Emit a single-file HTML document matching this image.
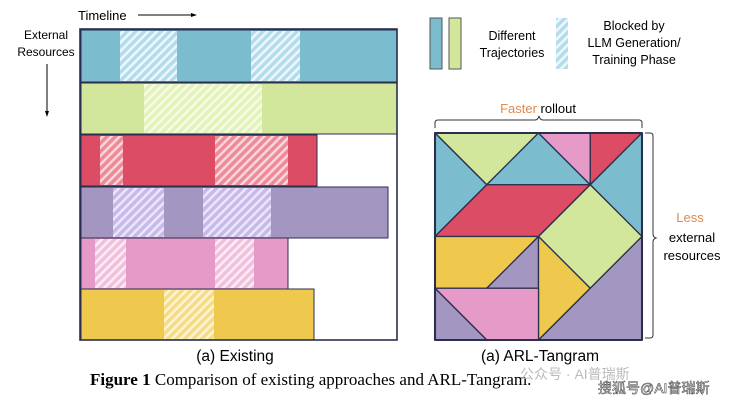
<!DOCTYPE html>
<html><head><style>body{margin:0;background:#fff}svg{display:block}</style></head><body>
<svg width="736" height="405" viewBox="0 0 736 405" xmlns="http://www.w3.org/2000/svg" font-family="Liberation Sans, sans-serif">
<defs>
<pattern id="hb" width="6" height="6" patternUnits="userSpaceOnUse" patternTransform="rotate(45)"><rect width="6" height="6" fill="#b4dceb"/><rect width="2.5" height="6" fill="#eef8fc"/></pattern>
<pattern id="hg" width="6" height="6" patternUnits="userSpaceOnUse" patternTransform="rotate(45)"><rect width="6" height="6" fill="#e2f2b8"/><rect width="2.5" height="6" fill="#f6fbe6"/></pattern>
<pattern id="hr" width="6" height="6" patternUnits="userSpaceOnUse" patternTransform="rotate(45)"><rect width="6" height="6" fill="#ec8a98"/><rect width="2.5" height="6" fill="#f9d6dc"/></pattern>
<pattern id="hp" width="6" height="6" patternUnits="userSpaceOnUse" patternTransform="rotate(45)"><rect width="6" height="6" fill="#c7b9ea"/><rect width="2.5" height="6" fill="#ece6f8"/></pattern>
<pattern id="hk" width="6" height="6" patternUnits="userSpaceOnUse" patternTransform="rotate(45)"><rect width="6" height="6" fill="#f2c0df"/><rect width="2.5" height="6" fill="#fcecf5"/></pattern>
<pattern id="hy" width="6" height="6" patternUnits="userSpaceOnUse" patternTransform="rotate(45)"><rect width="6" height="6" fill="#f5dc86"/><rect width="2.5" height="6" fill="#fdf4d6"/></pattern>
</defs>
<text x="78" y="20" font-size="13">Timeline</text>
<line x1="138" y1="15" x2="193" y2="15" stroke="#000" stroke-width="1"/><polygon points="197,15 191,13 191,17" fill="#000"/>
<text x="46" y="39" font-size="12" text-anchor="middle">External</text>
<text x="46" y="56" font-size="12" text-anchor="middle">Resources</text>
<line x1="47" y1="64" x2="47" y2="112" stroke="#000"/><polygon points="47,117 45,111 49,111" fill="#000"/>
<g stroke="#2b2f4e" stroke-width="1">
<rect x="81" y="30" width="316" height="52" fill="#7bbccf"/>
<rect x="81" y="83" width="316" height="51" fill="#d2e79b"/>
<rect x="81" y="135" width="236" height="51" fill="#dc4c64"/>
<rect x="81" y="187" width="307" height="51" fill="#a396c0"/>
<rect x="81" y="238" width="207" height="51" fill="#e59ac8"/>
<rect x="81" y="289" width="233" height="51" fill="#efc94e"/>
</g>
<rect x="120" y="31" width="57" height="50" fill="url(#hb)"/>
<rect x="251" y="31" width="49" height="50" fill="url(#hb)"/>
<rect x="144" y="84" width="118" height="49" fill="url(#hg)"/>
<rect x="100" y="136" width="23" height="49" fill="url(#hr)"/>
<rect x="215" y="136" width="73" height="49" fill="url(#hr)"/>
<rect x="113" y="188" width="51" height="49" fill="url(#hp)"/>
<rect x="203" y="188" width="68" height="49" fill="url(#hp)"/>
<rect x="95" y="239" width="31" height="49" fill="url(#hk)"/>
<rect x="215" y="239" width="39" height="49" fill="url(#hk)"/>
<rect x="164" y="290" width="50" height="49" fill="url(#hy)"/>
<rect x="80" y="29" width="317" height="311" fill="none" stroke="#2b2f4e" stroke-width="1.6"/>
<text x="235" y="361" font-size="15.5" text-anchor="middle">(a) Existing</text>
<rect x="430" y="18" width="12" height="51" fill="#7bbccf" stroke="#555"/>
<rect x="449" y="18" width="12" height="51" fill="#d2e79b" stroke="#555"/>
<text x="512" y="40" font-size="12.5" text-anchor="middle">Different</text>
<text x="512" y="57" font-size="12.5" text-anchor="middle">Trajectories</text>
<rect x="556" y="18" width="12" height="51" fill="url(#hb)"/>
<text x="634" y="30" font-size="12.5" text-anchor="middle">Blocked by</text>
<text x="634" y="47" font-size="12.5" text-anchor="middle">LLM Generation/</text>
<text x="634" y="64" font-size="12.5" text-anchor="middle">Training Phase</text>
<text x="538" y="113" font-size="13" text-anchor="middle"><tspan fill="#e08a4e">Faster</tspan> rollout</text>
<path d="M435,128 v-5 q0,-3 3,-3 h97 q3,0 4,-4 q1,4 4,4 h96 q3,0 3,3 v5" fill="none" stroke="#333"/>
<path d="M645,133 h5 q3,0 3,3 v98 q0,3 3,4 q-3,1 -3,4 v93 q0,3 -3,3 h-5" fill="none" stroke="#333"/>
<text x="690" y="222" font-size="13" fill="#e08a4e" text-anchor="middle">Less</text>
<text x="692" y="242" font-size="13" text-anchor="middle">external</text>
<text x="692" y="260" font-size="13" text-anchor="middle">resources</text>
<g transform="translate(435,133) scale(51.75)" stroke="#2b2f4e" stroke-width="0.025" stroke-linejoin="round">
<polygon points="0,0 2,0 1,1" fill="#d2e79b"/>
<polygon points="0,0 1,1 0,2" fill="#7bbccf"/>
<polygon points="1,1 2,0 3,1" fill="#7bbccf"/>
<polygon points="2,0 3,0 3,1" fill="#e59ac8"/>
<polygon points="3,0 4,0 3,1" fill="#dc4c64"/>
<polygon points="3,1 4,0 4,2" fill="#7bbccf"/>
<polygon points="1,1 3,1 2,2 0,2" fill="#dc4c64"/>
<polygon points="3,1 4,2 3,3 2,2" fill="#d2e79b"/>
<polygon points="0,2 2,2 1,3 0,3" fill="#efc94e"/>
<polygon points="2,2 2,3 1,3" fill="#a396c0"/>
<polygon points="2,2 3,3 2,4" fill="#efc94e"/>
<polygon points="4,2 4,4 2,4 3,3" fill="#a396c0"/>
<polygon points="0,3 2,3 2,4 1,4" fill="#e59ac8"/>
<polygon points="0,3 1,4 0,4" fill="#a396c0"/>
<rect x="0" y="0" width="4" height="4" fill="none" stroke-width="0.04"/>
</g>
<text x="540" y="361" font-size="15.5" text-anchor="middle">(a) ARL-Tangram</text>
<text x="90" y="385" font-size="17" font-family="Liberation Serif, serif"><tspan font-weight="bold">Figure 1</tspan>  Comparison of existing approaches and ARL-Tangram.</text>
<text x="520" y="379" font-size="14" fill="#bbb" font-family="Liberation Sans, Noto Sans CJK SC, sans-serif">公众号 · AI普瑞斯</text>
<text x="598" y="393" font-size="14" fill="#fff" stroke="#333" stroke-width="0.5" font-family="Liberation Sans, Noto Sans CJK SC, sans-serif">搜狐号@AI普瑞斯</text>
</svg>
</body></html>
